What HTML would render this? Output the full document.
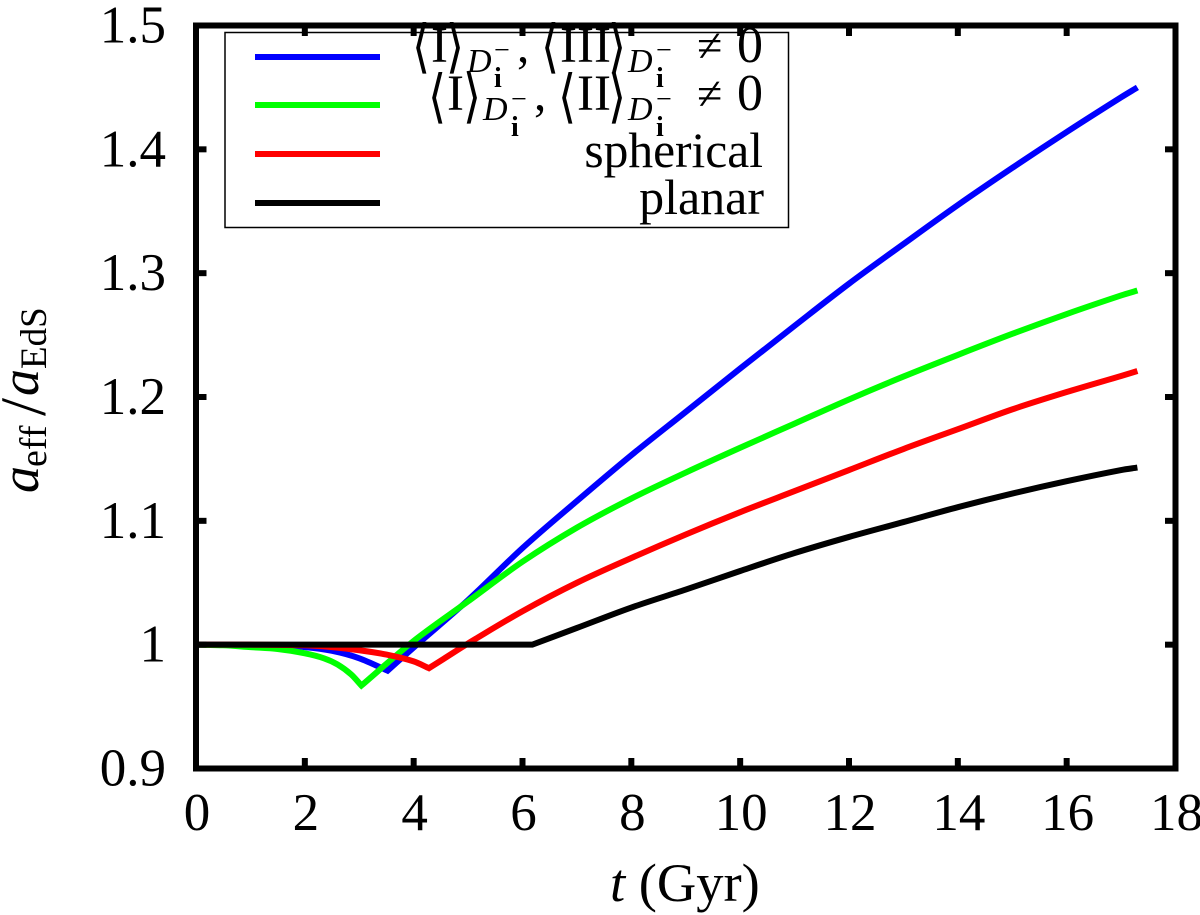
<!DOCTYPE html>
<html>
<head>
<meta charset="utf-8">
<style>
html,body{margin:0;padding:0;background:#fff;}
svg{display:block;}
text{font-family:"Liberation Serif","DejaVu Serif",serif;fill:#000;}
.m{font-family:"DejaVu Sans","Liberation Serif",serif;}
</style>
</head>
<body>
<svg id="chart" width="1200" height="915" viewBox="0 0 1200 915" xmlns="http://www.w3.org/2000/svg">
  <rect x="0" y="0" width="1200" height="915" fill="#fff"/>
  <g id="plot"></g>
  <g id="legend">
    <rect x="225" y="32.5" width="563.5" height="195" fill="#fff" stroke="#000" stroke-width="1.5"/>
    <line x1="255" x2="380" y1="57" y2="57" stroke="#0000ff" stroke-width="6"/>
    <line x1="255" x2="380" y1="105" y2="105" stroke="#00ff00" stroke-width="6"/>
    <line x1="255" x2="380" y1="154" y2="154" stroke="#ff0000" stroke-width="6"/>
    <line x1="255" x2="380" y1="203" y2="203" stroke="#000000" stroke-width="6"/>
  </g>
  <g id="frame"></g>
  <g id="legend-labels">
    <g>
      <text class="m" transform="translate(412,66) scale(.8,1)" font-size="58">⟨</text><text x="431" y="62" font-size="51">I</text><text class="m" transform="translate(446,66) scale(.8,1)" font-size="58">⟩</text>
      <text x="467" y="72" font-size="34" font-style="italic">D</text><text x="494" y="59" font-size="28">−</text><text x="494" y="87" font-size="28" font-weight="bold">i</text>
      <text x="517" y="62" font-size="49">,</text>
      <text class="m" transform="translate(541,66) scale(.8,1)" font-size="58">⟨</text><text x="560" y="62" font-size="51">III</text><text class="m" transform="translate(608,66) scale(.8,1)" font-size="58">⟩</text>
      <text x="628" y="72" font-size="34" font-style="italic">D</text><text x="656" y="59" font-size="28">−</text><text x="656" y="87" font-size="28" font-weight="bold">i</text>
      <text x="697" y="61" font-size="46">≠</text><text x="737" y="62" font-size="52">0</text>
    </g>
    <g>
      <text class="m" transform="translate(428,116) scale(.8,1)" font-size="58">⟨</text><text x="447" y="110" font-size="51">I</text><text class="m" transform="translate(463,116) scale(.8,1)" font-size="58">⟩</text>
      <text x="483" y="120" font-size="34" font-style="italic">D</text><text x="511" y="108" font-size="28">−</text><text x="511" y="136" font-size="28" font-weight="bold">i</text>
      <text x="534" y="110" font-size="49">,</text>
      <text class="m" transform="translate(558,116) scale(.8,1)" font-size="58">⟨</text><text x="577" y="110" font-size="51">II</text><text class="m" transform="translate(608,116) scale(.8,1)" font-size="58">⟩</text>
      <text x="628" y="120" font-size="34" font-style="italic">D</text><text x="656" y="108" font-size="28">−</text><text x="656" y="136" font-size="28" font-weight="bold">i</text>
      <text x="697" y="109" font-size="46">≠</text><text x="737" y="110" font-size="52">0</text>
    </g>
    <text x="763" y="167" font-size="49.5" text-anchor="end">spherical</text>
    <text x="764" y="214" font-size="50" text-anchor="end">planar</text>
  </g>
  <g id="ticklabels"></g>
  <text x="610" y="901" font-size="54.5"><tspan font-style="italic">t</tspan> (Gyr)</text>
  <g transform="translate(38,493) rotate(-90)">
    <text x="0" y="0" font-size="54" font-style="italic">a</text>
    <text x="26" y="8" font-size="38">eff</text>
    <text x="77" y="7" font-size="65">/</text>
    <text x="97" y="0" font-size="54" font-style="italic">a</text>
    <text x="124" y="8" font-size="37">EdS</text>
  </g>
</svg>
<script>
var xTickLabels = ["0","2","4","6","8","10","12","14","16","18"];
var xTickValues = [0,2,4,6,8,10,12,14,16,18];
var yTickLabels = ["0.9","1","1.1","1.2","1.3","1.4","1.5"];
var yTickValues = [0.9,1.0,1.1,1.2,1.3,1.4,1.5];

var blueT = [0,1,1.5,2,2.5,3,3.52,4.06,5,6,7,8,9,10,11,12,13,14,15,16,17,17.3];
var blueV = [1,0.9998,0.999,0.998,0.995,0.989,0.979,1,1.036,1.078,1.116,1.153,1.188,1.223,1.2575,1.2915,1.3235,1.355,1.385,1.414,1.442,1.45];
var blueKinkT = [3.52];

var greenT = [0,0.5,1,1.5,2,2.35,2.6,2.85,3.04,4,5,6,7,8,9,10,11,12,13,14,15,16,17,17.3];
var greenV = [1,0.9995,0.998,0.9965,0.993,0.989,0.984,0.976,0.967,1.003,1.035,1.067,1.0945,1.118,1.139,1.159,1.1785,1.198,1.2165,1.234,1.251,1.267,1.282,1.286];
var greenKinkT = [3.04];

var redT = [0,1,2,2.5,3,3.5,4,4.28,4.55,5,6,7,8,9,10,11,12,13,14,15,16,17,17.3];
var redV = [1,1,0.9995,0.998,0.9955,0.992,0.9865,0.981,0.9885,1.001,1.027,1.05,1.07,1.089,1.107,1.124,1.141,1.158,1.174,1.19,1.204,1.217,1.221];
var redKinkT = [4.28];

var blackT = [0,6.18,7,8,9,10,11,12,13,14,15,16,17,17.3];
var blackV = [1,1,1.0135,1.03,1.0445,1.0595,1.074,1.087,1.099,1.111,1.122,1.132,1.141,1.143];
var blackKinkT = [6.18];

var NS = 'http://www.w3.org/2000/svg';
function xAxis(t){ return 196 + (t - 0) * (1175.5 - 196) / 18; }
function yAxis(v){ return 768.5 - (v - 0.9) * (768.5 - 25.5) / 0.6; }
function make(tag, parent, attrs){
  var el = document.createElementNS(NS, tag);
  for (var k in attrs) el.setAttribute(k, attrs[k]);
  parent.appendChild(el);
  return el;
}
function seriesPath(ts, vs, kinks){
  var d = 'M' + xAxis(ts[0]).toFixed(2) + ' ' + yAxis(vs[0]).toFixed(2);
  var n = ts.length;
  var isBreak = function(i){ return i === 0 || i === n - 1 || kinks.indexOf(ts[i]) >= 0; };
  var slopeAt = function(i, side){
    if (isBreak(i)) {
      if (side > 0) return (vs[i + 1] - vs[i]) / (ts[i + 1] - ts[i]);
      return (vs[i] - vs[i - 1]) / (ts[i] - ts[i - 1]);
    }
    return (vs[i + 1] - vs[i - 1]) / (ts[i + 1] - ts[i - 1]);
  };
  for (var i = 0; i < n - 1; i++) {
    var h = ts[i + 1] - ts[i];
    var c1t = ts[i] + h / 3, c1v = vs[i] + slopeAt(i, 1) * h / 3;
    var c2t = ts[i + 1] - h / 3, c2v = vs[i + 1] - slopeAt(i + 1, -1) * h / 3;
    d += ' C' + xAxis(c1t).toFixed(2) + ' ' + yAxis(c1v).toFixed(2) + ' ' +
         xAxis(c2t).toFixed(2) + ' ' + yAxis(c2v).toFixed(2) + ' ' +
         xAxis(ts[i + 1]).toFixed(2) + ' ' + yAxis(vs[i + 1]).toFixed(2);
  }
  return d;
}
function drawSeries(ts, vs, kinks, color, name){
  var el = make('path', document.getElementById('plot'), {d: seriesPath(ts, vs, kinks), fill: 'none', stroke: color, 'stroke-width': 6, 'stroke-linejoin': 'miter', 'stroke-miterlimit': 6});
  
  
}
drawSeries(blueT, blueV, blueKinkT, '#0000ff', 'series-blue');
drawSeries(greenT, greenV, greenKinkT, '#00ff00', 'series-green');
drawSeries(redT, redV, redKinkT, '#ff0000', 'series-red');
drawSeries(blackT, blackV, blackKinkT, '#000000', 'series-planar');

var frame = document.getElementById('frame');
var labels = document.getElementById('ticklabels');
var box = make('rect', frame, {x: xAxis(0), y: yAxis(1.5), width: xAxis(18) - xAxis(0), height: yAxis(0.9) - yAxis(1.5), fill: 'none', stroke: '#000', 'stroke-width': 6});



xTickValues.forEach(function(t, i){
  var x = xAxis(t);
  if (i > 0 && i < xTickValues.length - 1) {
    var a = make('line', frame, {x1: x, x2: x, y1: yAxis(0.9), y2: yAxis(0.9) - 10.5, stroke: '#000', 'stroke-width': 6});
    
    
    var b = make('line', frame, {x1: x, x2: x, y1: yAxis(1.5), y2: yAxis(1.5) + 10.5, stroke: '#000', 'stroke-width': 6});
    
    
  }
  var l = make('text', labels, {x: x + 1, y: 830, 'font-size': 53, 'text-anchor': 'middle'});
  l.textContent = xTickLabels[i];
  
  
});
yTickValues.forEach(function(v, i){
  var y = yAxis(v);
  if (i > 0 && i < yTickValues.length - 1) {
    var a = make('line', frame, {x1: xAxis(0), x2: xAxis(0) + 10.5, y1: y, y2: y, stroke: '#000', 'stroke-width': 6});
    
    
    var b = make('line', frame, {x1: xAxis(18), x2: xAxis(18) - 10.5, y1: y, y2: y, stroke: '#000', 'stroke-width': 6});
    
    
  }
  var l = make('text', labels, {x: 166, y: y + 17, 'font-size': 53, 'text-anchor': 'end'});
  l.textContent = yTickLabels[i];
  
  
});
</script>
</body>
</html>
